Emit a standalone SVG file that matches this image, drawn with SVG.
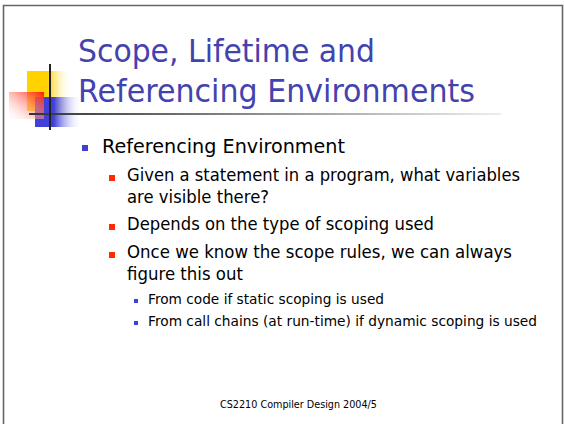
<svg xmlns="http://www.w3.org/2000/svg" width="564" height="424" viewBox="0 0 564 424">
  <style>
    .title { font-family: "DejaVu Sans", Verdana, sans-serif; font-size: 32px; fill: #4343B0; }
    .l1 { font-family: "DejaVu Sans", Verdana, sans-serif; font-size: 20px; fill: #000; }
    .l2 { font-family: "DejaVu Sans", Verdana, sans-serif; font-size: 17.5px; fill: #000; }
    .l3 { font-family: "DejaVu Sans", Verdana, sans-serif; font-size: 13.5px; fill: #000; }
    .foot { font-family: "DejaVu Sans", Verdana, sans-serif; font-size: 10px; fill: #000; }
  </style>
  <defs>
    <linearGradient id="gYellow" x1="0" y1="0" x2="1" y2="0">
      <stop offset="0" stop-color="#FFD200"/>
      <stop offset="0.45" stop-color="#FFD200"/>
      <stop offset="1" stop-color="#FFFFFF" stop-opacity="0"/>
    </linearGradient>
    <linearGradient id="gRed" x1="1" y1="0" x2="0" y2="1">
      <stop offset="0" stop-color="#FF1A00"/>
      <stop offset="1" stop-color="#FFFFFF" stop-opacity="0.2"/>
    </linearGradient>
    <linearGradient id="gBlue" x1="0" y1="0" x2="1" y2="0">
      <stop offset="0" stop-color="#4040D8"/>
      <stop offset="0.4" stop-color="#4040D8"/>
      <stop offset="1" stop-color="#FFFFFF" stop-opacity="0"/>
    </linearGradient>
    <linearGradient id="gRule" x1="0" y1="0" x2="1" y2="0">
      <stop offset="0" stop-color="#333333"/>
      <stop offset="1" stop-color="#EEEEEE"/>
    </linearGradient>
  </defs>

  <rect width="564" height="424" fill="#FFFFFF"/>

  <!-- slide frame -->
  <path d="M3.5,424 V5.5 H562.5 V424" fill="none" stroke="#666666" stroke-width="1.6"/>

  <!-- corner decoration -->
  <g id="logo">
    <rect x="27" y="71" width="45" height="40" fill="url(#gYellow)"/>
    <rect x="35" y="97" width="47" height="30" fill="url(#gBlue)"/>
    <rect x="9" y="92" width="35" height="27" fill="url(#gRed)"/>
    <rect x="29" y="113" width="472" height="2" fill="url(#gRule)"/>
    <rect x="49" y="64" width="2" height="66" fill="#222222"/>
  </g>

  <!-- title -->
  <g id="title">
    <text class="title" x="78" y="62" textLength="297" lengthAdjust="spacingAndGlyphs">Scope, Lifetime and</text>
    <text class="title" x="78" y="102" textLength="397" lengthAdjust="spacingAndGlyphs">Referencing Environments</text>
  </g>

  <!-- bullet list -->
  <g id="body">
    <rect x="82" y="145" width="6" height="6" fill="#4040D0"/>
    <text class="l1" x="102" y="153" textLength="243" lengthAdjust="spacingAndGlyphs">Referencing Environment</text>

    <rect x="109" y="175" width="6" height="6" fill="#FF2A00"/>
    <text class="l2" x="127" y="181" textLength="393" lengthAdjust="spacingAndGlyphs">Given a statement in a program, what variables</text>
    <text class="l2" x="127" y="203" textLength="142" lengthAdjust="spacingAndGlyphs">are visible there?</text>

    <rect x="109" y="224" width="6" height="6" fill="#FF2A00"/>
    <text class="l2" x="127" y="230" textLength="307" lengthAdjust="spacingAndGlyphs">Depends on the type of scoping used</text>

    <rect x="109" y="252" width="6" height="6" fill="#FF2A00"/>
    <text class="l2" x="127" y="258" textLength="385" lengthAdjust="spacingAndGlyphs">Once we know the scope rules, we can always</text>
    <text class="l2" x="127" y="280" textLength="116" lengthAdjust="spacingAndGlyphs">figure this out</text>

    <rect x="134" y="299" width="4" height="4" fill="#4040D0"/>
    <text class="l3" x="148" y="304" textLength="236" lengthAdjust="spacingAndGlyphs">From code if static scoping is used</text>

    <rect x="134" y="321" width="4" height="4" fill="#4040D0"/>
    <text class="l3" x="148" y="326" textLength="389" lengthAdjust="spacingAndGlyphs">From call chains (at run-time) if dynamic scoping is used</text>
  </g>

  <!-- footer -->
  <text class="foot" x="220" y="408" textLength="157" lengthAdjust="spacingAndGlyphs">CS2210 Compiler Design 2004/5</text>
</svg>
